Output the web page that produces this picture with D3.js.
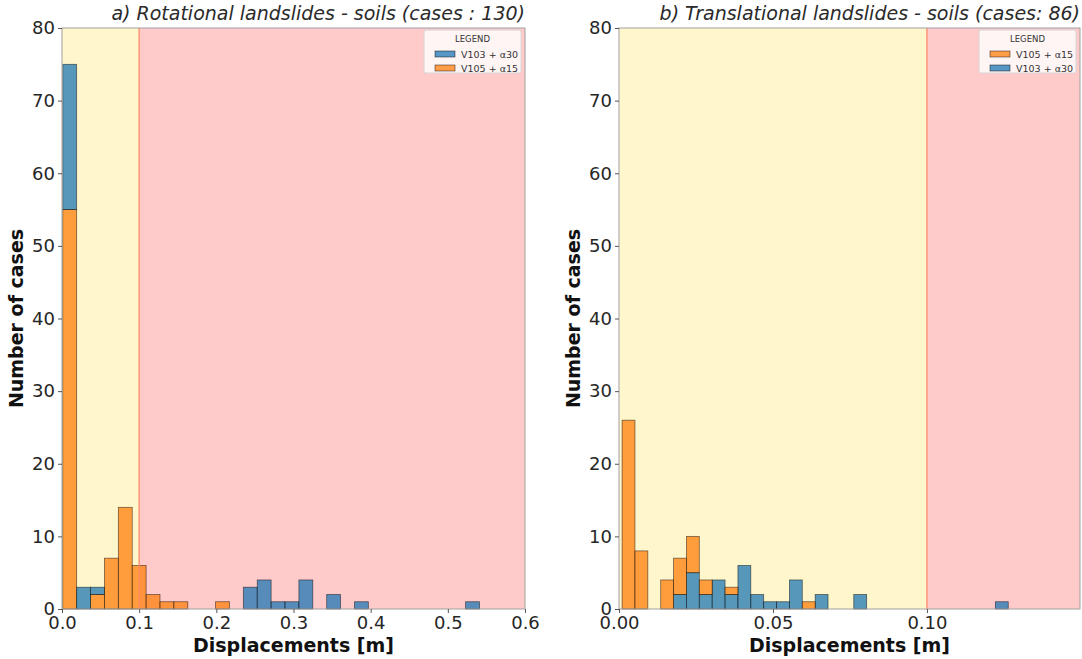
<!DOCTYPE html>
<html>
<head>
<meta charset="utf-8">
<script src="https://cdn.jsdelivr.net/npm/d3@7"></script>
<style>
  body { margin: 0; background: #fff; }
  text { font-family: "DejaVu Sans", sans-serif; }
</style>
</head>
<body>
<svg id="chart" width="1082" height="659"></svg>
<script>
// ---------------- data ----------------
// Panel a) Rotational landslides - soils (30 bins, stacked)
const aBinStart = 0.001;
const aBinWidth = 0.018;
const aV105 = [55,0,2,7,14,6,2,1,1,0,0,1,0,0,0,0,0,0,0,0,0,0,0,0,0,0,0,0,0,0];
const aV103 = [20,3,1,0,0,0,0,0,0,0,0,0,0,3,4,1,1,4,0,2,0,1,0,0,0,0,0,0,0,1];
const aXTicks = [0.0, 0.1, 0.2, 0.3, 0.4, 0.5, 0.6];
const aXTickLabels = ["0.0","0.1","0.2","0.3","0.4","0.5","0.6"];

// Panel b) Translational landslides - soils (30 bins, stacked)
const bBinStart = 0.001;
const bBinWidth = 0.00418;
const bV103 = [0,0,0,0,2,5,2,4,2,6,2,1,1,4,0,2,0,0,2,0,0,0,0,0,0,0,0,0,0,1];
const bV105 = [26,8,0,4,5,5,2,0,1,0,0,0,0,0,1,0,0,0,0,0,0,0,0,0,0,0,0,0,0,0];
const bXTicks = [0.0, 0.05, 0.10];
const bXTickLabels = ["0.00","0.05","0.10"];

const yTicks = [0,10,20,30,40,50,60,70,80];
const threshold = 0.1;

const colV103 = "#1f77b4";
const colV105 = "#ff7f0e";

// ---------------- drawing ----------------
const svg = d3.select("#chart");

function panel(opts) {
  const {left, right, top, bottom, xMax, binStart, binWidth, series, order,
         xTicks, xTickLabels, title, legendOrder} = opts;
  const g = svg.append("g");
  const x = d3.scaleLinear().domain([0, xMax]).range([left, right]);
  const y = d3.scaleLinear().domain([0, 80]).range([bottom, top]);

  // background spans
  g.append("rect").attr("x", x(0)).attr("y", top)
    .attr("width", x(threshold) - x(0)).attr("height", bottom - top)
    .attr("fill", "#fff6cc");
  g.append("rect").attr("x", x(threshold)).attr("y", top)
    .attr("width", x(xMax) - x(threshold)).attr("height", bottom - top)
    .attr("fill", "#ffcaca");

  // stacked bars
  const n = series[order[0]].length;
  const rows = d3.range(n).map(i => {
    const r = {i: i, x0: binStart + i * binWidth};
    order.forEach(k => r[k] = series[k][i]);
    return r;
  });
  const stack = d3.stack().keys(order)(rows);
  stack.forEach(layer => {
    const key = layer.key;
    g.append("g").selectAll("rect")
      .data(layer.filter(d => d[1] - d[0] > 0))
      .join("rect")
      .attr("x", d => x(d.data.x0))
      .attr("width", d => x(d.data.x0 + binWidth) - x(d.data.x0))
      .attr("y", d => y(d[1]))
      .attr("height", d => y(d[0]) - y(d[1]))
      .attr("fill", key === "V103" ? colV103 : colV105)
      .attr("fill-opacity", 0.75)
      .attr("stroke", "#000")
      .attr("stroke-opacity", 0.55)
      .attr("stroke-width", 0.8);
  });

  // threshold line
  g.append("line").attr("x1", x(threshold)).attr("x2", x(threshold))
    .attr("y1", top).attr("y2", bottom)
    .attr("stroke", "#ff8a6a").attr("stroke-width", 1.3);

  // frame
  g.append("rect").attr("x", left).attr("y", top)
    .attr("width", right - left).attr("height", bottom - top)
    .attr("fill", "none").attr("stroke", "#a0a0a0").attr("stroke-width", 1);

  // axes
  const xAxis = d3.axisBottom(x).tickValues(xTicks)
    .tickFormat((d, i) => xTickLabels[i]).tickSize(4).tickPadding(3);
  const gx = g.append("g").attr("transform", `translate(0,${bottom})`).call(xAxis);
  gx.select(".domain").remove();
  gx.selectAll("line").attr("stroke", "#555");
  gx.selectAll("text").attr("font-size", 18).attr("fill", "#262626")
    .attr("font-family", "DejaVu Sans");

  const yAxis = d3.axisLeft(y).tickValues(yTicks).tickSize(4).tickPadding(3);
  const gy = g.append("g").attr("transform", `translate(${left},0)`).call(yAxis);
  gy.select(".domain").remove();
  gy.selectAll("line").attr("stroke", "#555");
  gy.selectAll("text").attr("font-size", 18).attr("fill", "#262626")
    .attr("font-family", "DejaVu Sans");

  // titles
  g.append("text").attr("x", right).attr("y", 20)
    .attr("text-anchor", "end").attr("font-style", "italic")
    .attr("font-size", 19).attr("fill", "#2a2a2a").text(title);
  g.append("text").attr("x", (left + right) / 2).attr("y", 652)
    .attr("text-anchor", "middle").attr("font-weight", "bold")
    .attr("font-size", 19).attr("fill", "#111").text("Displacements [m]");
  g.append("text")
    .attr("transform", `translate(${left - 39},${(top + bottom) / 2}) rotate(-90)`)
    .attr("text-anchor", "middle").attr("font-weight", "bold")
    .attr("font-size", 19).attr("fill", "#111").text("Number of cases");

  // legend
  const lw = 97, lh = 43;
  const lx = right - lw - 4, ly = top + 2;
  const lg = g.append("g");
  lg.append("rect").attr("x", lx).attr("y", ly).attr("width", lw).attr("height", lh)
    .attr("rx", 2).attr("fill", "#fff").attr("fill-opacity", 0.8)
    .attr("stroke", "#d6d6d6").attr("stroke-width", 1);
  lg.append("text").attr("x", lx + lw / 2).attr("y", ly + 12)
    .attr("text-anchor", "middle").attr("font-size", 8.5).attr("fill", "#333").text("LEGEND");
  legendOrder.forEach((k, i) => {
    const yy = ly + 21 + i * 14;
    lg.append("rect").attr("x", lx + 11).attr("y", yy).attr("width", 20).attr("height", 6)
      .attr("fill", k === "V103" ? colV103 : colV105).attr("fill-opacity", 0.75)
      .attr("stroke", "#000").attr("stroke-opacity", 0.55).attr("stroke-width", 0.8);
    lg.append("text").attr("x", lx + 37).attr("y", yy + 6.5)
      .attr("font-size", 9.5).attr("fill", "#333")
      .text(k === "V103" ? "V103 + α30" : "V105 + α15");
  });
}

panel({
  left: 62, right: 525, top: 28, bottom: 609, xMax: 0.6,
  binStart: aBinStart, binWidth: aBinWidth,
  series: {V105: aV105, V103: aV103}, order: ["V105", "V103"],
  xTicks: aXTicks, xTickLabels: aXTickLabels,
  title: "a) Rotational landslides - soils (cases : 130)",
  legendOrder: ["V103", "V105"]
});

panel({
  left: 619, right: 1080, top: 28, bottom: 609, xMax: 0.1497,
  binStart: bBinStart, binWidth: bBinWidth,
  series: {V103: bV103, V105: bV105}, order: ["V103", "V105"],
  xTicks: bXTicks, xTickLabels: bXTickLabels,
  title: "b) Translational landslides - soils (cases: 86)",
  legendOrder: ["V105", "V103"]
});
</script>
</body>
</html>
